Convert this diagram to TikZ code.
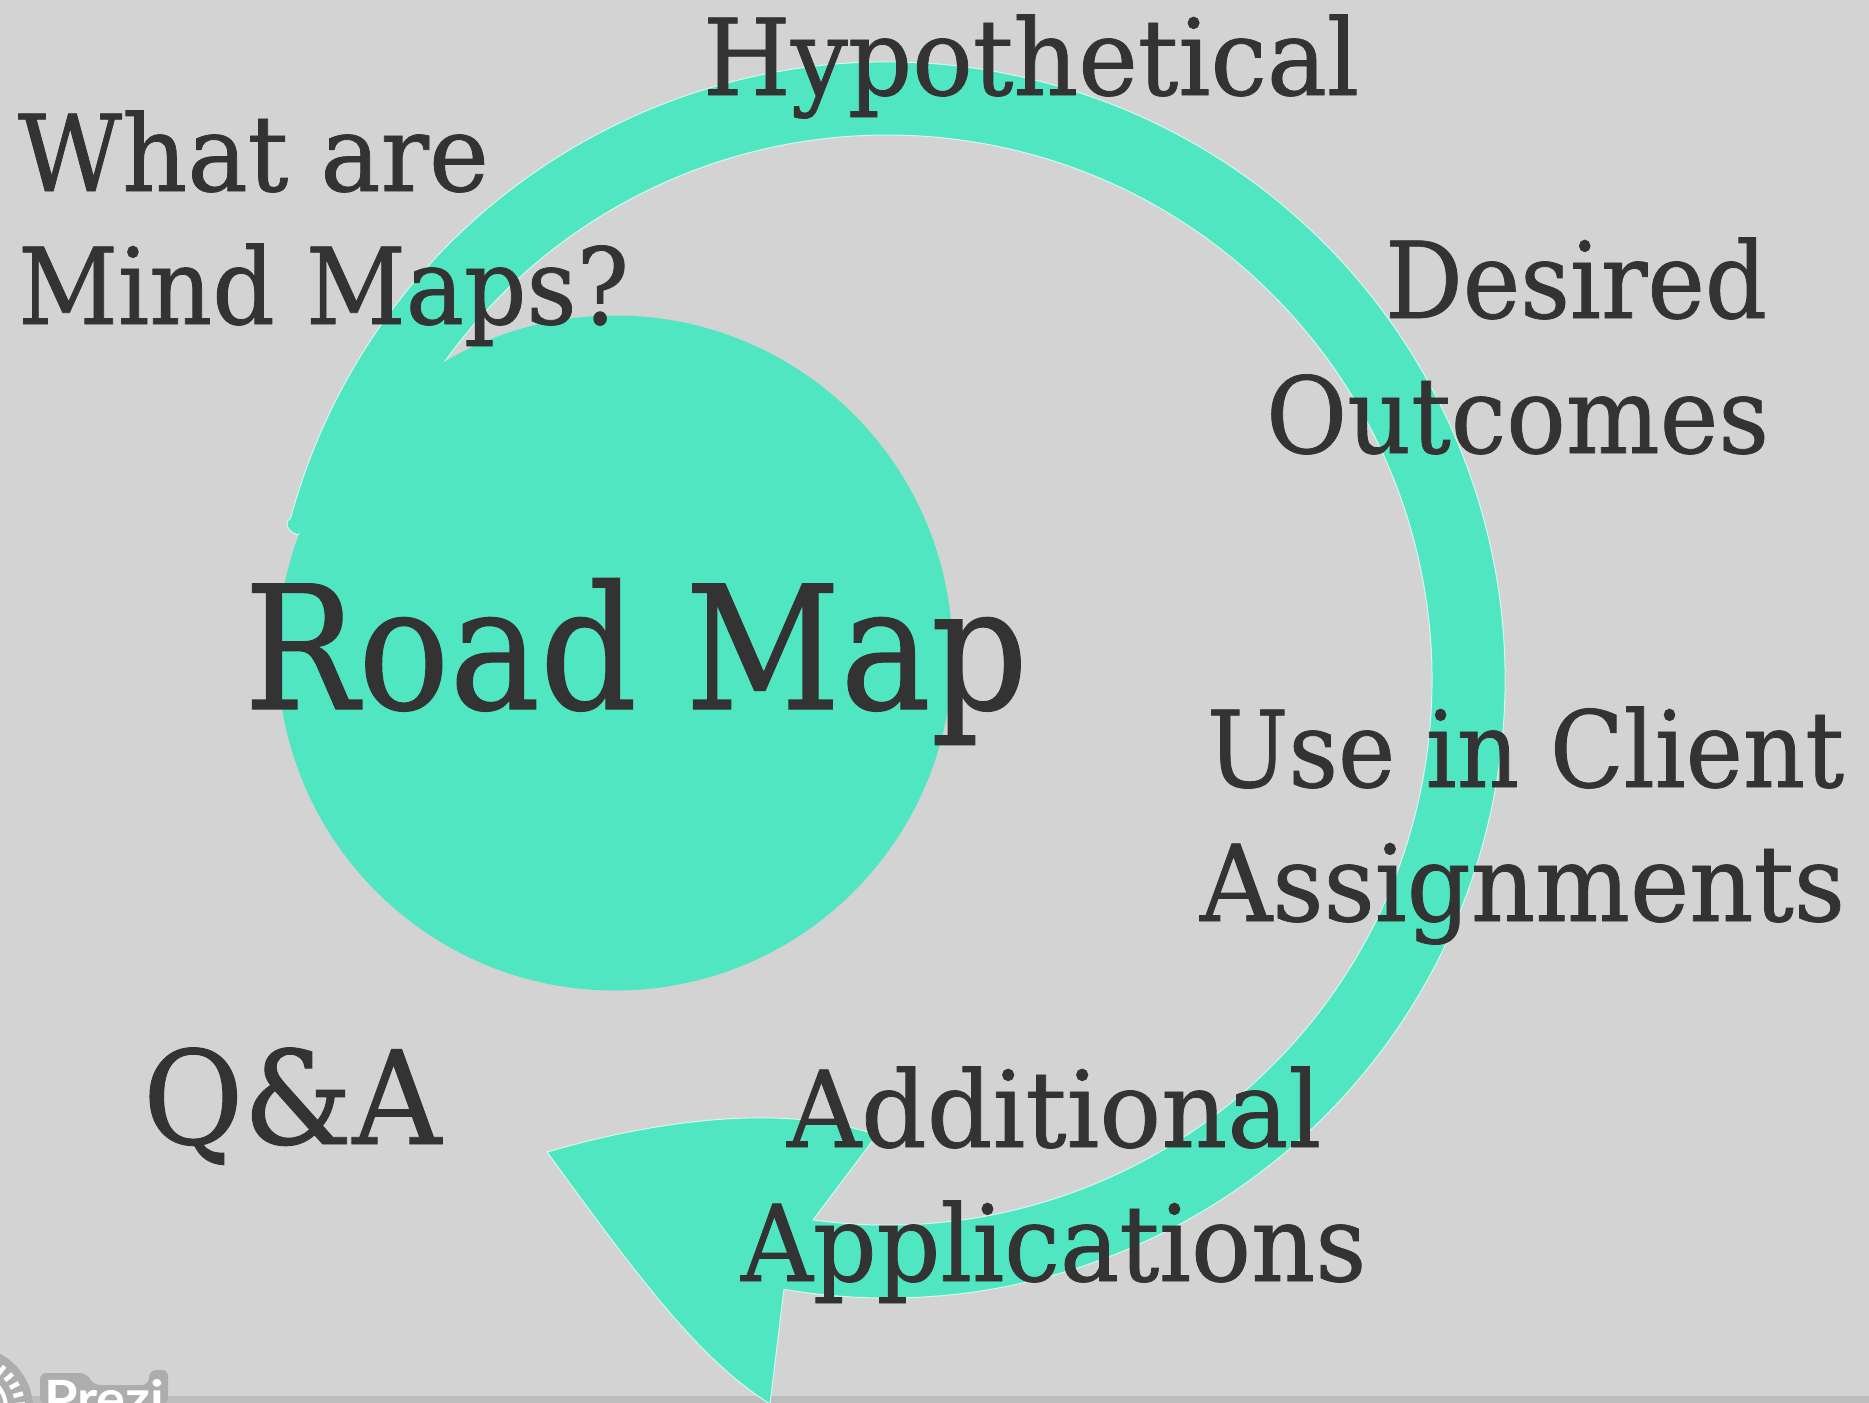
\documentclass[tikz,border=0pt]{standalone}
\usepackage{fontspec}
\usepackage{graphicx}
\setmainfont{DejaVu Serif Condensed}[FakeBold=0.7]
\newfontfamily\logofont{Lato}[BoldFont={Lato Bold}]
\definecolor{bgc}{HTML}{D3D3D3}
\definecolor{barc}{HTML}{BDBDBD}
\definecolor{halo}{HTML}{ADADAD}
\definecolor{teal}{HTML}{50E6C2}
\definecolor{ink}{HTML}{333333}
\tikzset{
  lbl/.style={anchor=base west,inner sep=0pt,outer sep=0pt,text=ink},
  shapefill/.style={fill=teal},
  rim/.style={draw=white!75!teal,line width=0.5pt,line join=miter}
}
% #1 name, #2 x, #3 baseline y, #4 width in px, #5 font size in pt, #6 text
\newcommand\fitlabel[6]{%
  \node[lbl] (#1) at (#2,#3) {\resizebox{\dimexpr #4pt/2\relax}{\height}{\fontsize{#5}{#5}\selectfont #6}};}
\begin{document}
\begin{tikzpicture}[x=0.5pt,y=-0.5pt]
\useasboundingbox (0,0) rectangle (1869,1403);
\clip (0,0) rectangle (1869,1403);
\fill[bgc] (0,0) rectangle (1869,1403);
\fill[barc] (0,1396) rectangle (1869,1403);
% logo
\fill[halo] (-28,1408) circle[radius=61];
\foreach \a in {-88,-76,-64,-52,-40,-28,-16,-4}{
  \draw[white,line width=2.2pt] ([shift={(\a:43)}]-28,1408) -- ([shift={(\a:53)}]-28,1408);}
\draw[white,line width=2pt] (-28,1408) ++(-90:34) arc[start angle=-90,end angle=0,radius=34];
\fill[halo,rounded corners=3pt] (40,1403) -- (40,1373) -- (86,1373) -- (94,1385) -- (148,1385) -- (150,1370) -- (168,1370) -- (168,1403) -- cycle;
\node[anchor=base west,inner sep=0pt,text=white] (logo) at (44,1416)
  {\resizebox{60pt}{\height}{\logofont\bfseries\fontsize{25}{25}\selectfont Prezi}};
% ring and arrow head
\coordinate (c) at (887,680);
\coordinate (tip) at (770,1404);
\coordinate (barbL) at (547,1152);
\coordinate (barbR) at (877,1135);
\coordinate (notch) at (813,1219);
\coordinate (base) at (784,1290);
\path[shapefill,rim] ([shift={(-164.8:618)}]c)
  arc[start angle=-164.8,end angle=99.6,radius=618]
  -- (tip)
  .. controls (700,1360) and (640,1280) .. (barbL)
  .. controls (640,1125) and (775,1100) .. (barbR)
  -- ([shift={(97.8:545)}]c)
  arc[start angle=97.8,end angle=-144.4,radius=545]
  -- (298,535) .. controls (288,532) and (283,523) .. cycle;
% disc
\fill[shapefill] (615,653) circle[radius=337.5];
% labels
\fitlabel{hyp}{703}{95}{656}{53}{Hypothetical}
\fitlabel{what}{18}{191}{471}{53}{What are}
\fitlabel{mind}{18}{324}{611}{53}{Mind Maps?}
\fitlabel{des}{1385}{318}{382}{53}{Desired}
\fitlabel{out}{1266}{453}{503}{53}{Outcomes}
\fitlabel{road}{244}{709}{784}{86}{Road Map}
\fitlabel{use}{1207}{787}{637}{53}{Use in Client}
\fitlabel{ass}{1200}{921}{645}{53}{Assignments}
\fitlabel{qa}{143}{1144}{298}{65}{Q\&A}
\fitlabel{add}{787}{1147}{534}{53}{Additional}
\fitlabel{app}{741}{1281}{625}{53}{Applications}
\end{tikzpicture}
\end{document}
